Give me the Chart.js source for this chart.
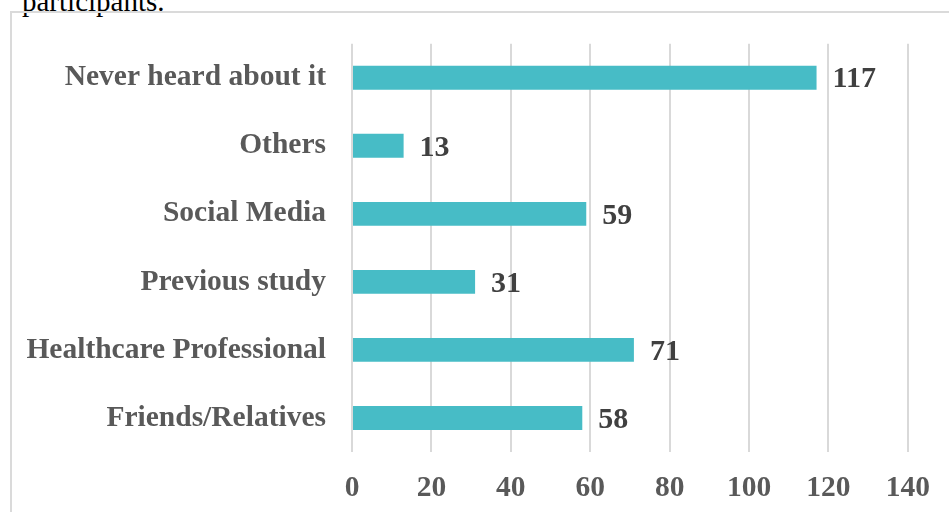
<!DOCTYPE html>
<html>
<head>
<meta charset="UTF-8">
<title>Sources of information</title>
<script src="https://cdn.jsdelivr.net/npm/chart.js@4/dist/chart.umd.min.js"></script>
<style type="text/css">
    body{
        margin: 0;
        width: 949px;
        height: 512px;
        overflow: hidden;
        background: #fff;
        position: relative;
    }
    .caption{
        position: absolute;
        left: 22px;
        top: -15px;
        font: 29px "Liberation Serif", serif;
        color: #000;
        white-space: nowrap;
    }
    .frame{
        position: absolute;
        left: 10px;
        top: 11px;
        width: 1000px;
        height: 600px;
        border: 2px solid #dadada;
    }
    #myChart{
        position: absolute;
        left: 0;
        top: 0;
    }
</style>
</head>
<body>
    <div class="caption">participants.</div>
    <div class="frame"></div>
    <canvas id="myChart" width="949" height="512"></canvas>

<script type="text/javascript">

    var categories = ['Never heard about it', 'Others', 'Social Media', 'Previous study', 'Healthcare Professional', 'Friends/Relatives']
    var counts = [117, 13, 59, 31, 71, 58]
    var xTicks = [0, 20, 40, 60, 80, 100, 120, 140]

    // value at the end of each bar
    var valueLabels = {
        id: 'valueLabels',
        afterDatasetsDraw: function(chart) {
            var ctx = chart.ctx
            var meta = chart.getDatasetMeta(0)
            ctx.save()
            ctx.font = 'bold 30px "Liberation Serif", serif'
            ctx.fillStyle = '#404040'
            ctx.textAlign = 'left'
            ctx.textBaseline = 'middle'
            meta.data.forEach(function(bar, i) {
                ctx.fillText(String(counts[i]), bar.x + 16, bar.y + 2)
            })
            ctx.restore()
        }
    }

    var ctx = document.getElementById('myChart').getContext('2d')
    var chart = new Chart(ctx, {
        type: 'bar',
        data: {
            labels: categories,
            datasets: [{
                data: counts,
                backgroundColor: '#47bcc6',
                borderWidth: 0,
                barPercentage: 0.35,
                categoryPercentage: 1
            }]
        },
        options: {
            indexAxis: 'y',
            responsive: false,
            animation: false,
            layout: {
                padding: { top: 41, right: 38, left: 0, bottom: 0 }
            },
            plugins: {
                legend: { display: false },
                tooltip: { enabled: false }
            },
            scales: {
                x: {
                    min: xTicks[0],
                    max: xTicks[xTicks.length - 1],
                    afterBuildTicks: function(scale) {
                        scale.ticks = xTicks.map(function(v) { return { value: v } })
                    },
                    afterFit: function(scale) { scale.height = 60 },
                    border: { display: false },
                    grid: { color: '#d9d9d9', lineWidth: 2, drawTicks: false },
                    ticks: {
                        padding: 19,
                        color: '#595959',
                        font: { family: '"Liberation Serif", serif', size: 29.5, weight: 'bold' }
                    }
                },
                y: {
                    afterFit: function(scale) { scale.width = 352 },
                    border: { display: false },
                    grid: { display: false, drawTicks: false },
                    ticks: {
                        padding: 26,
                        color: '#595959',
                        font: { family: '"Liberation Serif", serif', size: 29.5, weight: 'bold' }
                    }
                }
            }
        },
        plugins: [valueLabels]
    })
</script>
</body>
</html>
